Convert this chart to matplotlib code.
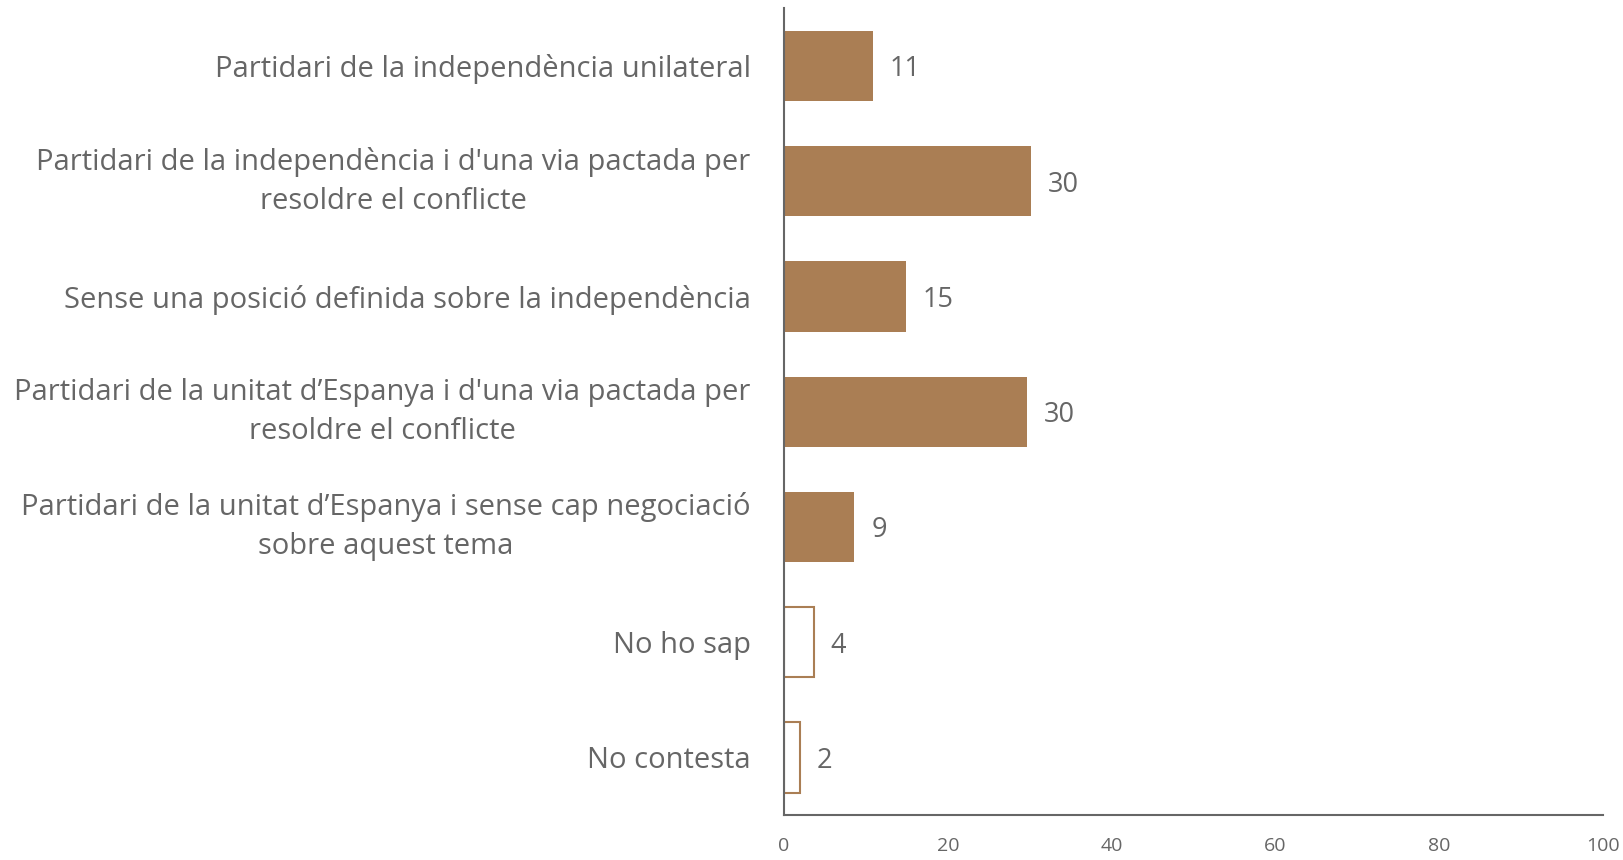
import matplotlib.pyplot as plt

# Survey answers (top to bottom) and their percentages
categories = [
    "Partidari de la independència unilateral",
    "Partidari de la independència i d'una via pactada per\nresoldre el conflicte",
    "Sense una posició definida sobre la independència",
    "Partidari de la unitat d\u2019Espanya i d'una via pactada per\nresoldre el conflicte",
    "Partidari de la unitat d\u2019Espanya i sense cap negociació\nsobre aquest tema",
    "No ho sap",
    "No contesta",
]
values = [10.9, 30.2, 14.9, 29.7, 8.6, 3.6, 1.9]
labels = ["11", "30", "15", "30", "9", "4", "2"]
hollow = [False, False, False, False, False, True, True]
xticks = [0, 20, 40, 60, 80, 100]

brown = "#aa7e54"
grey = "#666666"
plt.rcParams["font.family"] = ["Open Sans", "DejaVu Sans"]

fig = plt.figure(figsize=(16.24, 8.6), dpi=100)
ax = fig.add_axes([0.4828, 0.0523, 0.5042, 0.938])

pos = list(range(len(categories)))
for y, v, h in zip(pos, values, hollow):
    if h:
        ax.barh(y, v, height=0.61, color="white", edgecolor=brown, linewidth=1.5)
    else:
        ax.barh(y, v, height=0.61, color=brown)

# Value labels to the right of each bar
for y, v, lab in zip(pos, values, labels):
    ax.annotate(lab, (v, y), xytext=(12, 0), textcoords="offset points",
                ha="left", va="center_baseline", fontsize=19.5, color=grey)

ax.set_ylim(len(categories) - 0.5, -0.5)
ax.set_xlim(0, 100)
ax.set_yticks(pos)
ax.set_yticklabels(categories, fontsize=21, color=grey,
                   multialignment="center", linespacing=1.45)
# two-line labels: center the whole block on the bar
for t in ax.get_yticklabels():
    if "\n" in t.get_text():
        t.set_va("center")
ax.set_xticks(xticks)
ax.set_xticklabels([str(t) for t in xticks], fontsize=14, color=grey)
ax.tick_params(axis="y", length=0, pad=24)
ax.tick_params(axis="x", length=0, pad=16)

for s in ["top", "right"]:
    ax.spines[s].set_visible(False)
for s in ["left", "bottom"]:
    ax.spines[s].set_color(grey)
    ax.spines[s].set_linewidth(1.5)

fig.savefig("out.png", dpi=100)
